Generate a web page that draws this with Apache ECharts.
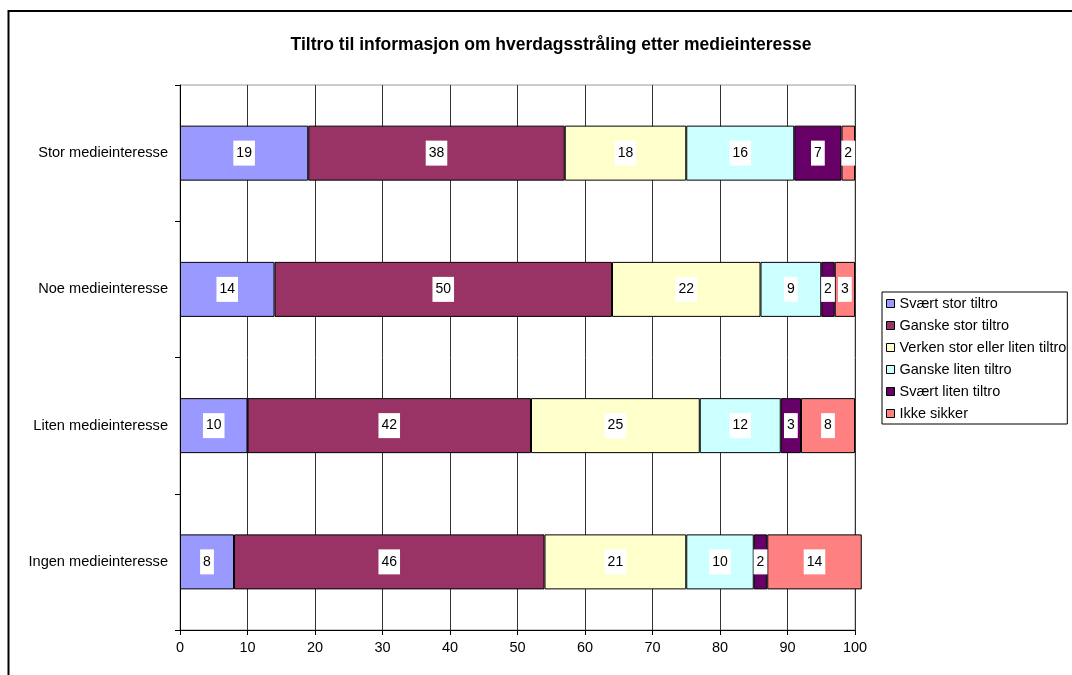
<!DOCTYPE html>
<html>
<head>
<meta charset="utf-8">
<title>Tiltro til informasjon om hverdagsstråling</title>
<script src="https://cdn.jsdelivr.net/npm/echarts@6/dist/echarts.min.js"></script>
<style>
  html, body { margin: 0; padding: 0; background: #fff; }
  #chart { width: 1072px; height: 675px; }
</style>
</head>
<body>
<div id="chart"></div>
<script>
  // kategorier, nederst til øverst
  const categories = ['Ingen medieinteresse', 'Liten medieinteresse', 'Noe medieinteresse', 'Stor medieinteresse']
  const seriesNames = ['Svært stor tiltro', 'Ganske stor tiltro', 'Verken stor eller liten tiltro', 'Ganske liten tiltro', 'Svært liten tiltro', 'Ikke sikker']
  const svaertStor = [8, 10, 14, 19]
  const ganskeStor = [46, 42, 50, 38]
  const verken = [21, 25, 22, 18]
  const ganskeLiten = [10, 12, 9, 16]
  const svaertLiten = [2, 3, 2, 7]
  const ikkeSikker = [14, 8, 3, 2]
  const xTicks = [0, 10, 20, 30, 40, 50, 60, 70, 80, 90, 100]

  const colors = ['#9999FF', '#993366', '#FFFFCC', '#CCFFFF', '#660066', '#FF8080']
  const values = [svaertStor, ganskeStor, verken, ganskeLiten, svaertLiten, ikkeSikker]
  const font = 'Arial, "Liberation Sans", sans-serif'

  const chart = echarts.init(document.getElementById('chart'))

  const series = seriesNames.map((name, i) => {
    return {
      name: name,
      type: 'bar',
      stack: 'total',
      barWidth: 55,
      clip: false,
      data: values[i],
      itemStyle: { color: colors[i], borderColor: '#000', borderWidth: 1 },
      label: {
        show: true,
        position: 'inside',
        color: '#000',
        fontSize: 14,
        lineHeight: 14,
        fontFamily: font,
        backgroundColor: '#fff',
        padding: [6, 3, 5, 3]
      },
      emphasis: { disabled: true }
    }
  })

  chart.setOption({
    animation: false,
    title: {
      text: 'Tiltro til informasjon om hverdagsstråling etter medieinteresse',
      left: 546,
      textAlign: 'center',
      top: 31,
      textStyle: { fontSize: 17.5, fontWeight: 'bold', color: '#000', fontFamily: font }
    },
    legend: {
      orient: 'vertical',
      left: 882,
      top: 292,
      width: 190,
      itemWidth: 8,
      itemHeight: 8,
      itemGap: 7,
      padding: [4, 1, 3, 4],
      borderColor: '#000',
      borderWidth: 1,
      icon: 'rect',
      itemStyle: { borderColor: '#000', borderWidth: 1 },
      textStyle: { fontSize: 14.5, lineHeight: 15, color: '#000', fontFamily: font },
      data: seriesNames
    },
    grid: { left: 180, right: 217, top: 85, bottom: 45, show: true, borderColor: '#999', borderWidth: 1 },
    xAxis: {
      type: 'value',
      min: 0,
      max: 100,
      interval: 10,
      axisLine: { show: true, lineStyle: { color: '#000' } },
      axisTick: { show: true, length: 5, lineStyle: { color: '#000' } },
      axisLabel: {
        color: '#000', fontSize: 14.5, fontFamily: font, margin: 10,
        formatter: v => xTicks.includes(v) ? String(v) : ''
      },
      splitLine: { show: true, lineStyle: { color: '#333' } }
    },
    yAxis: {
      type: 'category',
      data: categories,
      axisLine: { show: true, lineStyle: { color: '#000' } },
      axisTick: { show: true, length: 5, lineStyle: { color: '#000' } },
      axisLabel: { color: '#000', fontSize: 14.6, fontFamily: font, margin: 12 },
      splitLine: { show: false }
    },
    graphic: [{
      type: 'rect',
      shape: { x: 8.5, y: 11, width: 1100, height: 700 },
      style: { fill: null, stroke: '#000', lineWidth: 2 },
      silent: true
    }],
    series: series
  })
</script>
</body>
</html>
